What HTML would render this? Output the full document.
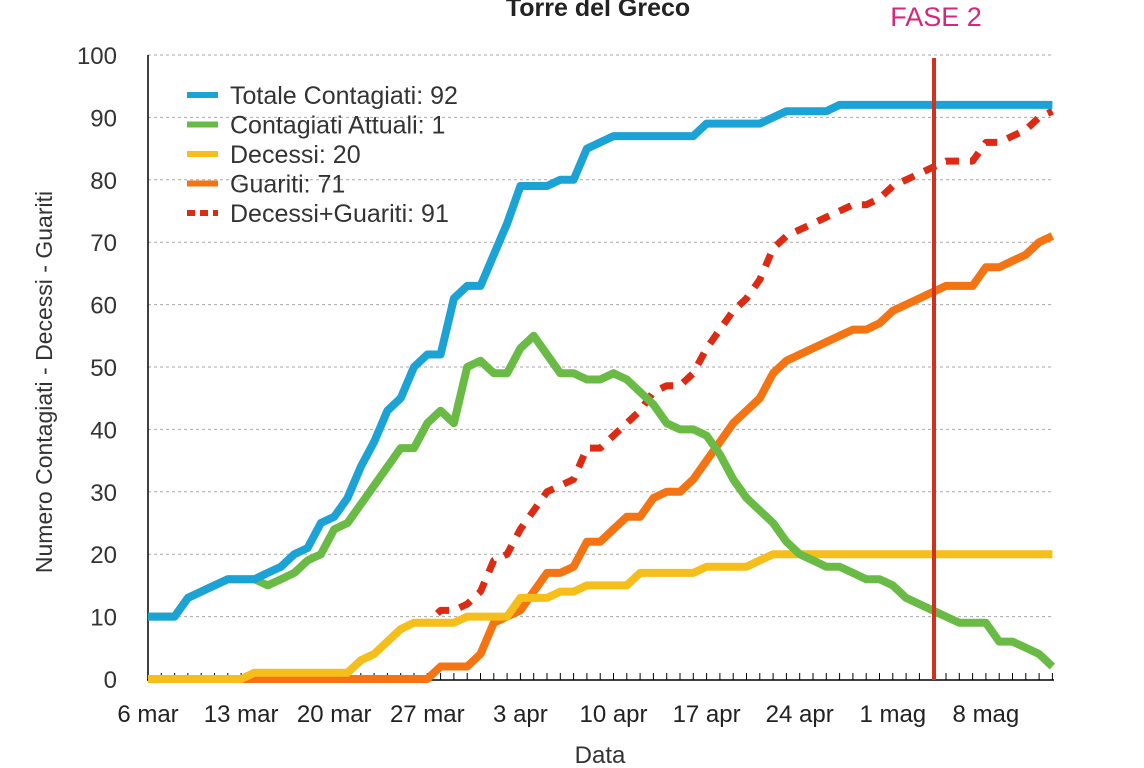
<!DOCTYPE html>
<html><head><meta charset="utf-8"><style>
html,body{margin:0;padding:0;background:#fff;}
svg{display:block;font-family:"Liberation Sans",sans-serif;}
</style></head><body>
<svg id="c" width="1144" height="768" viewBox="0 0 1144 768" xmlns="http://www.w3.org/2000/svg">
<text x="598" y="16" font-size="25" font-weight="bold" text-anchor="middle" fill="#222">Torre del Greco</text>
<text x="936" y="26" font-size="27" text-anchor="middle" fill="#d6267e">FASE 2</text>
<text x="52" y="382" font-size="23" text-anchor="middle" fill="#333" transform="rotate(-90 52 382)">Numero Contagiati - Decessi - Guariti</text>
<text x="600" y="763" font-size="24" text-anchor="middle" fill="#333">Data</text>
<g id="g"></g>
</svg>
<script>
var g=document.getElementById('g'),NS="http://www.w3.org/2000/svg";
function el(t,a,txt){var e=document.createElementNS(NS,t);for(var k in a)e.setAttribute(k,a[k]);if(txt!==undefined)e.textContent=txt;g.appendChild(e);return e;}
var X0=148,DX=13.3,Y0=679,DY=6.24;
function X(i){return X0+i*DX;}function Y(v){return Y0-v*DY;}
for(var v=0;v<=100;v+=10){
 if(v>0)el('line',{x1:148,x2:1053,y1:Y(v),y2:Y(v),stroke:'#aaa','stroke-width':1,'stroke-dasharray':'3,3'});
 el('text',{x:117,y:Y(v)+9,'font-size':24,'text-anchor':'end',fill:'#333'},v);
}
el('line',{x1:148,x2:148,y1:55,y2:680,stroke:'#000','stroke-width':1.5});
el('line',{x1:147,x2:1054,y1:680,y2:680,stroke:'#000','stroke-width':1.5});
for(var i=0;i<=68;i++)el('line',{x1:X(i),x2:X(i),y1:673,y2:680,stroke:'#000','stroke-width':1});
var labs=['6 mar','13 mar','20 mar','27 mar','3 apr','10 apr','17 apr','24 apr','1 mag','8 mag'];
labs.forEach(function(l,k){el('text',{x:X(k*7),y:722,'font-size':24,'text-anchor':'middle',fill:'#222'},l);});
var tot=[10,10,10,13,14,15,16,16,16,17,18,20,21,25,26,29,34,38,43,45,50,52,52,61,63,63,68,73,79,79,79,80,80,85,86,87,87,87,87,87,87,87,89,89,89,89,89,90,91,91,91,91,92,92,92,92,92,92,92,92,92,92,92,92,92,92,92,92,92];
var att=[10,10,10,13,14,15,16,16,16,15,16,17,19,20,24,25,28,31,34,37,37,41,43,41,50,51,49,49,53,55,52,49,49,48,48,49,48,46,44,41,40,40,39,36,32,29,27,25,22,20,19,18,18,17,16,16,15,13,12,11,10,9,9,9,6,6,5,4,2,1];
att=att.slice(0,69);
var dec=[0,0,0,0,0,0,0,0,1,1,1,1,1,1,1,1,3,4,6,8,9,9,9,9,10,10,10,10,13,13,13,14,14,15,15,15,15,17,17,17,17,17,18,18,18,18,19,20,20,20,20,20,20,20,20,20,20,20,20,20,20,20,20,20,20,20,20,20,20];
var gua=[0,0,0,0,0,0,0,0,0,0,0,0,0,0,0,0,0,0,0,0,0,0,2,2,2,4,9,10,11,14,17,17,18,22,22,24,26,26,29,30,30,32,35,38,41,43,45,49,51,52,53,54,55,56,56,57,59,60,61,62,63,63,63,66,66,67,68,70,71];
var sum=dec.map(function(d,i){return d+gua[i];});
function pl(d,c,extra){var p=d.map(function(v,i){return X(i).toFixed(1)+','+Y(v).toFixed(1);}).join(' ');
 var a={points:p,fill:'none',stroke:c,'stroke-width':8,'stroke-linejoin':'round'};for(var k in extra)a[k]=extra[k];el('polyline',a);}
pl(sum,'#dd2a12',{'stroke-dasharray':'13,11','stroke-width':7});
pl(gua,'#f47414');pl(dec,'#f6be1a');pl(att,'#6abb45');pl(tot,'#1ba3d6');
el('line',{x1:934,x2:934,y1:58,y2:680,stroke:'#d0321d','stroke-width':4});
var L=[['Totale Contagiati: 92','#1ba3d6'],['Contagiati Attuali: 1','#6abb45'],['Decessi: 20','#f6be1a'],['Guariti: 71','#f47414'],['Decessi+Guariti: 91','#dd2a12']];
L.forEach(function(l,k){var y=95+k*29.5;
 var a={x1:187,x2:218,y1:y,y2:y,stroke:l[1],'stroke-width':6};
 if(k==4)a['stroke-dasharray']='8,5';
 el('line',a);el('text',{x:230,y:y+9,'font-size':25,fill:'#333'},l[0]);});
</script>
</body></html>
